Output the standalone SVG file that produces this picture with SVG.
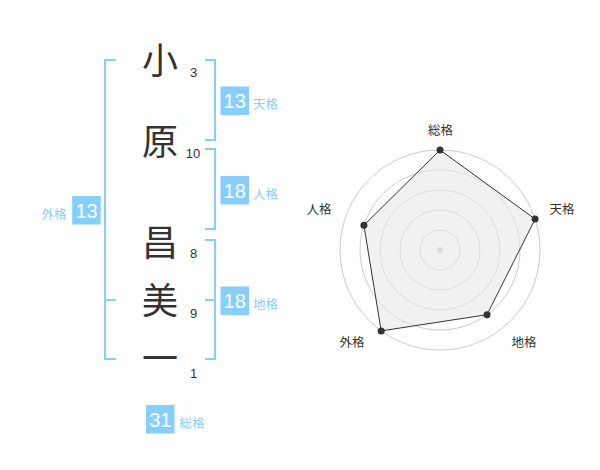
<svg xmlns="http://www.w3.org/2000/svg" width="600" height="470" viewBox="0 0 600 470">
<style>
.kanji{font-family:"Noto Sans CJK JP","Noto Sans CJK SC",sans-serif;font-size:36px;fill:#333;text-anchor:middle}
.num{font-family:"Liberation Sans",Arial,sans-serif;font-size:13px;fill:#333;text-anchor:middle}
.br{fill:none;stroke:#87CEFA;stroke-width:2}
.box{fill:#87CEFA}
.bnum{font-family:"Liberation Sans",Arial,sans-serif;font-size:20px;fill:#fff;text-anchor:middle}
.blab{font-family:"Noto Sans CJK JP","Noto Sans CJK SC",sans-serif;font-size:12.5px;fill:#87CEFA}
.ring{fill:none;stroke:#cccccc;stroke-width:1}
.rlab{font-family:"Noto Sans CJK JP","Noto Sans CJK SC",sans-serif;font-size:12.5px;fill:#333;text-anchor:middle}
.pt{fill:#333}
</style>
<rect width="600" height="470" fill="#fff"/>
<g id="name">
<text class="kanji" x="160" y="74">小</text>
<text class="kanji" x="160" y="155">原</text>
<text class="kanji" x="160" y="256">昌</text>
<text class="kanji" x="160" y="314">美</text>
<text class="kanji" x="160" y="372">一</text>
</g>
<g id="strokes">
<text class="num" x="193.5" y="77">3</text>
<text class="num" x="193" y="158">10</text>
<text class="num" x="193.5" y="258">8</text>
<text class="num" x="193.5" y="318">9</text>
<text class="num" x="193.5" y="378">1</text>
</g>
<g id="connectors">
<path class="br" d="M116,60 H105 V359 H116 M105,300 H116"/>
<path class="br" d="M205,60 H215 V140 H205"/>
<path class="br" d="M205,149 H215 V229 H205"/>
<path class="br" d="M205,240 H215 V359 H205 M205,300 H215"/>
</g>
<g id="tenkaku">
<rect class="box" x="220.5" y="86.5" width="28.5" height="28.5"/>
<text class="bnum" x="234.7" y="108">13</text>
<text class="blab" x="253" y="109">天格</text>
</g>
<g id="jinkaku">
<rect class="box" x="220.5" y="176" width="28.5" height="28.5"/>
<text class="bnum" x="234.7" y="197.5">18</text>
<text class="blab" x="253" y="198.5">人格</text>
</g>
<g id="chikaku">
<rect class="box" x="220.5" y="286.5" width="28.5" height="28.5"/>
<text class="bnum" x="234.7" y="308">18</text>
<text class="blab" x="253" y="309">地格</text>
</g>
<g id="gaikaku">
<rect class="box" x="72.2" y="196" width="28.5" height="28.5"/>
<text class="bnum" x="86.5" y="217.5">13</text>
<text class="blab" x="41.5" y="218.5">外格</text>
</g>
<g id="soukaku">
<rect class="box" x="146" y="405" width="28.5" height="28.5"/>
<text class="bnum" x="160.3" y="426.5">31</text>
<text class="blab" x="179.5" y="427.5">総格</text>
</g>
<g id="radar">
<circle class="ring" cx="440" cy="250" r="20"/>
<circle class="ring" cx="440" cy="250" r="40"/>
<circle class="ring" cx="440" cy="250" r="60"/>
<circle class="ring" cx="440" cy="250" r="80"/>
<circle class="ring" cx="440" cy="250" r="100"/>
<circle cx="440" cy="250" r="3" fill="#cccccc"/>
<polygon points="440,150 535.1,219.1 487,314.7 381.2,330.9 363.9,225.3" fill="#e8e8e8" fill-opacity="0.6" stroke="#333" stroke-width="1"/>
<circle class="pt" cx="440" cy="150" r="3.5"/>
<circle class="pt" cx="535.1" cy="219.1" r="3.5"/>
<circle class="pt" cx="487" cy="314.7" r="3.5"/>
<circle class="pt" cx="381.2" cy="330.9" r="3.5"/>
<circle class="pt" cx="363.9" cy="225.3" r="3.5"/>
<text class="rlab" x="440.5" y="135">総格</text>
<text class="rlab" x="562" y="214">天格</text>
<text class="rlab" x="319" y="214">人格</text>
<text class="rlab" x="352" y="347">外格</text>
<text class="rlab" x="524" y="347">地格</text>
</g>
</svg>
